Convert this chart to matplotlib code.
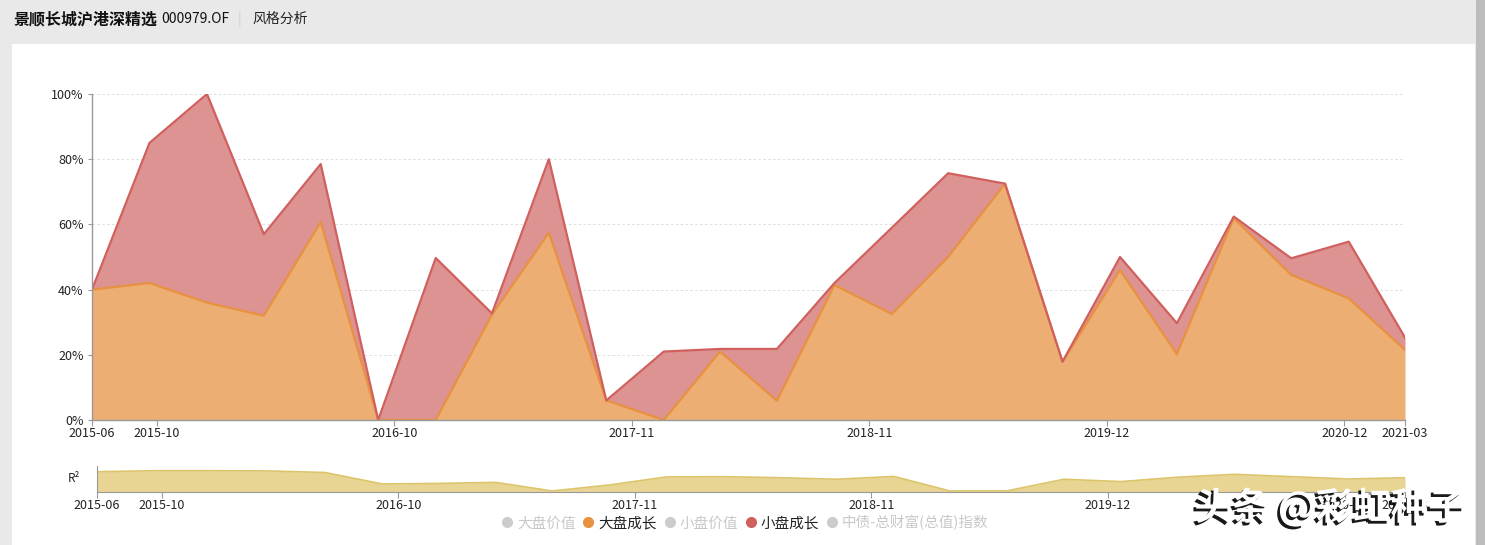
import numpy as np
import pandas as pd
import matplotlib
matplotlib.use('Agg')
import matplotlib.pyplot as plt
from matplotlib.patches import Rectangle
from matplotlib.lines import Line2D
import matplotlib.patheffects as pe

plt.rcParams['font.family'] = ['Noto Sans CJK SC', 'DejaVu Sans']

# quarterly report dates
dates = pd.to_datetime([
    '2015-06-30', '2015-09-30', '2015-12-31', '2016-03-31', '2016-06-30', '2016-09-30',
    '2016-12-31', '2017-03-31', '2017-06-30', '2017-09-30', '2017-12-31', '2018-03-31',
    '2018-06-30', '2018-09-30', '2018-12-31', '2019-03-31', '2019-06-30', '2019-09-30',
    '2019-12-31', '2020-03-31', '2020-06-30', '2020-09-30', '2020-12-31', '2021-03-31'])

# 大盘成长 (bottom layer) and 小盘成长 (stacked on top), in %
large_growth = [40, 42, 36, 32, 60.7, 0, 0, 32.3, 57.4, 6, 0, 21,
                5.9, 41.4, 32.5, 50, 72.5, 17.8, 46, 20.2, 61.9, 44.5, 37.3, 21.5]
small_growth = [0, 43, 64, 25, 17.8, 0, 49.7, 0.4, 22.6, 0, 21, 0.8,
                15.9, 0.6, 26.5, 25.7, 0, 0.1, 4, 9.5, 0.5, 5.1, 17.4, 3.8]

# R squared
r2 = [0.78, 0.82, 0.82, 0.81, 0.75, 0.31, 0.33, 0.37, 0.04, 0.27, 0.58, 0.59,
      0.55, 0.49, 0.60, 0.04, 0.04, 0.49, 0.40, 0.57, 0.68, 0.59, 0.50, 0.55]

tick_dates = pd.to_datetime(['2015-06-30', '2015-10-12', '2016-10-26', '2017-11-10',
                             '2018-11-25', '2019-12-10', '2020-12-24', '2021-03-31'])
tick_labels = ['2015-06', '2015-10', '2016-10', '2017-11',
               '2018-11', '2019-12', '2020-12', '2021-03']

legend_names = ['大盘价值', '大盘成长', '小盘价值', '小盘成长', '中债-总财富(总值)指数']
legend_dots = ['#cccccc', '#e8913f', '#cccccc', '#d0605e', '#cccccc']
legend_text = ['#c8c8c8', '#222222', '#c8c8c8', '#222222', '#c8c8c8']

W, H = 1485, 545
fig = plt.figure(figsize=(W / 100, H / 100), dpi=100)
fig.patch.set_facecolor('#e9e9e9')

# white card + right grey strip
fig.patches.append(Rectangle((12 / W, 0), (1475 - 12) / W, (H - 44) / H,
                             transform=fig.transFigure, facecolor='white', edgecolor='none', zorder=-10))
fig.patches.append(Rectangle((1476 / W, 0), 9 / W, 1,
                             transform=fig.transFigure, facecolor='#bdbdbd', edgecolor='none', zorder=-10))

# header
fig.text(14 / W, 1 - 19 / H, '景顺长城沪港深精选', fontsize=11.5, fontweight='bold', va='center', color='#111111')
fig.text(161 / W, 1 - 19 / H, '000979.OF', fontsize=10, va='center', color='#111111')
fig.text(238 / W, 1 - 19 / H, '|', fontsize=10, va='center', color='#d0d0d0')
fig.text(252 / W, 1 - 19 / H, '风格分析', fontsize=10, va='center', color='#222222')

lg = np.array(large_growth) / 100
total = lg + np.array(small_growth) / 100

ax = fig.add_axes([92 / W, (H - 420) / H, 1313 / W, 326 / H])
ax.fill_between(dates, lg, total, color='#dc9391', lw=0, zorder=2)
ax.fill_between(dates, 0, lg, color='#edae74', lw=0, zorder=3)
ax.plot(dates, lg, color='#e8913f', lw=1.6, zorder=4)
ax.plot(dates, total, color='#d0605e', lw=1.6, zorder=5)
ax.set_xlim(dates[0], dates[-1])
ax.set_ylim(0, 1)
ax.set_yticks(np.arange(0, 1.01, 0.2))
ax.set_yticklabels([f'{int(v)}%' for v in np.arange(0, 101, 20)])
ax.grid(axis='y', ls=(0, (2.5, 2.5)), color='#dddddd', lw=0.7, zorder=1)
ax.set_xticks(tick_dates)
ax.set_xticklabels(tick_labels)
for s in ['top', 'right']:
    ax.spines[s].set_visible(False)
for s in ['left', 'bottom']:
    ax.spines[s].set_color('#999999')
    ax.spines[s].set_linewidth(1)
    ax.spines[s].set_zorder(6)
ax.tick_params(axis='x', length=4, color='#999999', labelsize=9, pad=1, labelcolor='#222222')
ax.tick_params(axis='y', length=3, color='#999999', labelsize=9, pad=3, labelcolor='#222222')
ax.set_facecolor('none')

# R2 panel
ax2 = fig.add_axes([97 / W, (H - 492) / H, 1308 / W, 26 / H])
ax2.fill_between(dates, 0, r2, color='#e8d594', lw=0)
ax2.plot(dates, r2, color='#dcc46a', lw=1.2)
ax2.set_xlim(dates[0], dates[-1])
ax2.set_ylim(0, 1)
ax2.set_yticks([])
ax2.set_xticks(tick_dates)
ax2.set_xticklabels(tick_labels)
for s in ['top', 'right']:
    ax2.spines[s].set_visible(False)
for s in ['left', 'bottom']:
    ax2.spines[s].set_color('#999999')
ax2.tick_params(axis='x', length=4, color='#999999', labelsize=9, pad=1, labelcolor='#222222')
ax2.set_facecolor('none')
fig.text(74 / W, 1 - 479 / H, 'R²', fontsize=8.5, ha='center', va='center', color='#222222')

# legend
handles = [Line2D([], [], ls='none', marker='o', markersize=8, markerfacecolor=c, markeredgecolor='none')
           for c in legend_dots]
leg = fig.legend(handles, legend_names, loc='center', bbox_to_anchor=(744 / W, 1 - 523 / H),
                 ncol=5, frameon=False, fontsize=10.5, handletextpad=0.15, columnspacing=0.4,
                 handlelength=1.0, borderpad=0)
for t, c in zip(leg.get_texts(), legend_text):
    t.set_color(c)

# watermark
fig.text(1330 / W, 1 - 508 / H, '头条 @彩虹种子', fontsize=27, fontweight='bold', color='white',
         ha='center', va='center',
         path_effects=[pe.SimplePatchShadow(offset=(-2, -2), shadow_rgbFace='black', alpha=0.9), pe.Normal()],
         zorder=10)

fig.savefig('out.png', dpi=100, facecolor=fig.get_facecolor())
